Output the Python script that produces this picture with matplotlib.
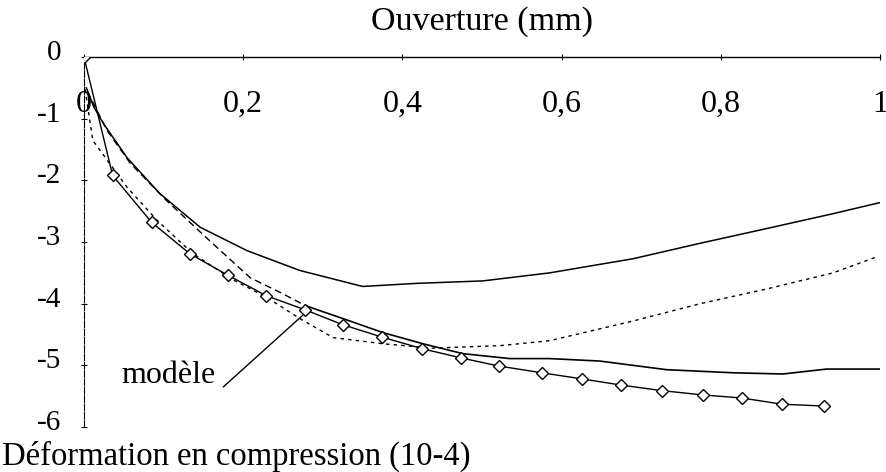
import matplotlib.pyplot as plt
import matplotlib.transforms as mtransforms

# model curve (diamonds)
mod_x = [0, 0.036, 0.085, 0.133, 0.181, 0.229, 0.278, 0.325, 0.374, 0.425,
         0.474, 0.521, 0.575, 0.626, 0.675, 0.726, 0.778, 0.827, 0.877, 0.930]
mod_y = [0, -1.92, -2.68, -3.19, -3.54, -3.87, -4.10, -4.34, -4.54, -4.73,
         -4.88, -5.01, -5.12, -5.22, -5.32, -5.41, -5.48, -5.53, -5.63, -5.66]

# upper solid curve
a_x = [0.003, 0.012, 0.024, 0.054, 0.095, 0.146, 0.205, 0.271, 0.350, 0.418,
       0.501, 0.585, 0.690, 0.774, 0.858, 0.941, 1.0]
a_y = [-0.50, -0.80, -1.07, -1.63, -2.21, -2.76, -3.14, -3.46, -3.72, -3.67,
       -3.63, -3.50, -3.27, -3.02, -2.78, -2.54, -2.36]

# dotted curve
b_x = [0, 0.011, 0.054, 0.092, 0.137, 0.187, 0.230, 0.271, 0.313, 0.376,
       0.438, 0.523, 0.585, 0.690, 0.774, 0.858, 0.941, 0.996]
b_y = [-0.40, -1.35, -2.11, -2.65, -3.19, -3.61, -3.90, -4.24, -4.55, -4.65,
       -4.72, -4.68, -4.60, -4.28, -4.00, -3.76, -3.50, -3.24]

# lower curve (dashed at start, then solid)
c_x = [0.004, 0.029, 0.058, 0.104, 0.158, 0.209, 0.250, 0.278, 0.325, 0.376,
       0.426, 0.476, 0.535, 0.585, 0.648, 0.732, 0.815, 0.878, 0.933, 1.0]
c_y = [-0.55, -1.19, -1.72, -2.33, -2.98, -3.58, -3.84, -4.03, -4.24, -4.47,
       -4.65, -4.81, -4.89, -4.89, -4.93, -5.07, -5.12, -5.14, -5.06, -5.06]
c_split = 7

x_ticks = [0, 0.2, 0.4, 0.6, 0.8, 1]
x_labels = ["0", "0,2", "0,4", "0,6", "0,8", "1"]
y_ticks = [0, -1, -2, -3, -4, -5, -6]

plt.rcParams['font.family'] = ['Liberation Serif', 'DejaVu Serif']
plt.rcParams['axes.unicode_minus'] = False

fig = plt.figure(figsize=(8.87, 4.72), dpi=100)
ax = fig.add_axes([0.0947, 0.0953, 0.8973, 0.7837])

ax.plot(a_x, a_y, color="black", lw=1.1)
ax.plot(b_x, b_y, color="black", lw=1.0, dashes=(2.5, 3))
ax.plot(c_x[:c_split + 1], c_y[:c_split + 1], color="black", lw=1.0, dashes=(5, 3))
ax.plot(c_x[c_split:], c_y[c_split:], color="black", lw=1.2)
ax.plot(mod_x, mod_y, color="black", lw=1.0, marker="D", ms=6.5,
        mfc="white", mec="black", mew=1.0, zorder=5)

# label with its pointer line
ax.text(0.165, -5.17, "modèle", ha="right", va="center", fontsize=23)
ax.annotate("", xy=(mod_x[6], mod_y[6] - 0.05), xytext=(0.175, -5.35),
            arrowprops=dict(arrowstyle="-", color="black", lw=1.0, shrinkA=0, shrinkB=0))

ax.set_xlim(0, 1)
ax.set_ylim(-6, 0)
ax.spines['bottom'].set_visible(False)
ax.spines['right'].set_visible(False)
ax.spines['top'].set_linewidth(1.0)
ax.spines['left'].set_linewidth(0.8)
ax.spines['left'].set_linestyle((0, (6, 1.5)))

ax.xaxis.set_ticks_position('top')
ax.set_xticks(x_ticks)
ax.set_xticklabels(x_labels)
ax.tick_params(axis='x', direction='inout', length=5, width=0.8, pad=-47, labelsize=23)
ax.set_yticks(y_ticks)
ax.tick_params(axis='y', direction='inout', length=5, width=0.8, pad=14, labelsize=21)
# y labels sit a little above their ticks
shift = mtransforms.ScaledTranslation(0, 5 / 72, fig.dpi_scale_trans)
for lab in ax.get_yticklabels():
    lab.set_transform(lab.get_transform() + shift)

ax.xaxis.set_label_position('top')
ax.set_xlabel("Ouverture (mm)", fontsize=24.5, labelpad=17)

fig.text(0.002, 0.015, "Déformation en compression (10-4)", fontsize=23.5,
         ha="left", va="baseline")

fig.savefig("out.png", dpi=100)
